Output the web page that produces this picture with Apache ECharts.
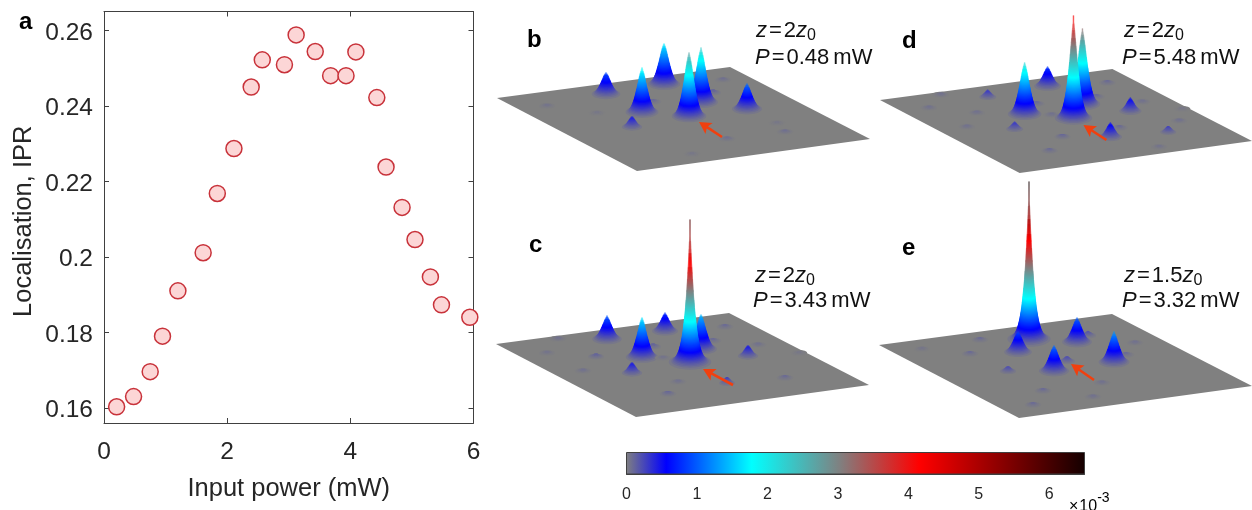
<!DOCTYPE html>
<html><head><meta charset="utf-8">
<style>html,body{margin:0;padding:0;background:#fff}#c{width:1252px;height:510px}</style>
<script src="https://cdn.jsdelivr.net/npm/echarts@6/dist/echarts.min.js"></script>
</head><body><div id="c"></div>
<script>
// Panel a: input power (mW) vs IPR
const inputPower = [0.205,0.48,0.75,0.95,1.2,1.61,1.84,2.11,2.39,2.57,2.93,3.12,3.43,3.68,3.93,4.09,4.43,4.58,4.84,5.05,5.30,5.48,5.94];
const ipr = [0.1603,0.1630,0.1696,0.1790,0.1910,0.2011,0.2168,0.2287,0.2450,0.2522,0.2509,0.2588,0.2544,0.2480,0.2480,0.2543,0.2422,0.2238,0.2131,0.2046,0.1947,0.1873,0.1840];
const xTicks = [0,2,4,6];
const yTicks = [0.16,0.18,0.2,0.22,0.24,0.26];
const barTicks = [0,1,2,3,4,5,6];
// Peaks on the plane: [lateral u, lateral v, height in 1e-3]
const peaksB = [[109,28,0.95],[167,18,1.75],[145,46,1.9],[204,36,2.3],[192,50,2.7],[250,43,1.1],[135,61,0.5],
 [50,39,0.06],[226,13,0.08],[216,26,0.14],[156,35,0.1],[288,65,0.08],[230,72,0.08],[195,87,0.04],[100,46,0.04],[280,56,0.04]];
const peaksC = [[111,27,1.0],[146,45,1.7],[169,19,0.8],[205,37,1.5],[194,50,6.0],[136,61,0.5],[252,44,0.5],[231,71,0.3],
 [62,26,0.07],[51,40,0.06],[100,44,0.14],[87,58,0.07],[157,34,0.14],[229,14,0.1],[217,28,0.1],[262,32,0.07],[303,40,0.04],[289,65,0.1],[182,69,0.07],[172,81,0.12],[167,45,0.06]];
const peaksD = [[108,29,0.35],[168,18,0.85],[145,46,2.2],[203,36,3.2],[194,50,4.3],[135,61,0.35],[231,69,0.65],[251,43,0.6],[289,64,0.3],
 [61,26,0.07],[49,39,0.07],[97,44,0.07],[87,58,0.07],[183,68,0.12],[170,82,0.1],[228,14,0.1],[217,28,0.1],[263,33,0.07],[303,40,0.04],[300,52,0.07],[240,59,0.1],[280,78,0.06],[157,35,0.1],[172,46,0.07]];
const peaksE = [[150,26,6.6],[139,39,0.9],[198,29,1.05],[175,58,1.1],[235,49,1.3],[129,58,0.25],[188,48,0.25],[209,22,0.2],
 [101,26,0.1],[91,40,0.1],[43,35,0.05],[256,29,0.07],[247,41,0.1],[223,69,0.07],[164,77,0.1],[214,83,0.07],[154,91,0.1]];
// Arrows: tail u, tail v, tip u, tip v
const arrowB = [225,70,202,55];
const arrowC = [237,72,207,56];
const arrowD = [227,71,204,56];
const arrowE = [215,66,192,50];
const planeCorners = [[0,31],[233,0],[373,72],[140,104]];
const panelLabels = ['a','b','c','d','e'];
const colorStops = [[0,128,128,128],[0.57,0,0,255],[1.78,0,255,255],[3.03,128,128,128],[4.15,255,0,0],[6.5,20,0,0]];

const DARK='#262626', FONT='"Liberation Sans",Arial,sans-serif';
function cmap(z){
  for(let i=1;i<colorStops.length;i++){
    const a=colorStops[i-1],b=colorStops[i];
    if(z<=b[0]){const t=(z-a[0])/(b[0]-a[0]);
      return `rgb(${Math.round(a[1]+t*(b[1]-a[1]))},${Math.round(a[2]+t*(b[2]-a[2]))},${Math.round(a[3]+t*(b[3]-a[3]))})`;}
  }
  const l=colorStops[colorStops.length-1];return `rgb(${l[1]},${l[2]},${l[3]})`;
}
const Z_UNITS=24, SQUASH=0.36;
function clamp01(t){return Math.max(0,Math.min(1,t));}
function peakItem(params,api){
  const u=api.value(0),v=api.value(1),H=api.value(2);
  const c=api.coord([u,v]);
  const pxPerZ=api.size([0,Z_UNITS])[1];
  const dz=Math.min(1/pxPerZ,H/8);
  const tall=clamp01((H-2.7)/3.3), small=clamp01((1-H)/0.7);
  const power=1.7-0.55*tall;
  const s=(7.5-2.2*tall)-2.2*small;
  const kids=[];
  for(let z=dz;z<H;z+=dz){
    const r=s*Math.pow(Math.log(H/z),1/power);
    kids.push({type:'ellipse',shape:{cx:c[0],cy:c[1]-z*pxPerZ,rx:Math.max(r,0.9),ry:Math.max(r*SQUASH,0.5)},style:{fill:cmap(z)},silent:true});
  }
  return {type:'group',children:kids};
}
function planeItem(params,api){
  const pts=planeCorners.map(p=>api.coord(p));
  return {type:'polygon',shape:{points:pts},style:{fill:'#808080'},silent:true};
}
function arrowItem(params,api){
  const t=api.coord([api.value(0),api.value(1)]),h=api.coord([api.value(2),api.value(3)]);
  const dx=h[0]-t[0],dy=h[1]-t[1],L=Math.hypot(dx,dy),ux=dx/L,uy=dy/L,nx=-uy,ny=ux;
  const len=12,w=6.5,sw=1.3;
  const b=[h[0]-ux*len,h[1]-uy*len];
  return {type:'polygon',shape:{points:[
    h,[b[0]+nx*w,b[1]+ny*w],[b[0]+nx*sw+ux*2,b[1]+ny*sw+uy*2],[t[0]+nx*sw,t[1]+ny*sw],[t[0]-nx*sw,t[1]-ny*sw],[b[0]-nx*sw+ux*2,b[1]-ny*sw+uy*2],[b[0]-nx*w,b[1]-ny*w]
  ]},style:{fill:'#f0400f'},silent:true};
}
const panels=[
 {o:[497,67],peaks:peaksB,arrow:arrowB},
 {o:[496,313],peaks:peaksC,arrow:arrowC},
 {o:[880,69],peaks:peaksD,arrow:arrowD},
 {o:[879,314],peaks:peaksE,arrow:arrowE}
];
const grids=[{left:104,top:11.5,width:369.5,height:411.5}];
const xAxes=[
 {gridIndex:0,type:'value',min:0,max:6,position:'bottom',name:'Input power (mW)',nameLocation:'middle',nameGap:53,
  nameTextStyle:{fontSize:25.5,color:DARK,fontFamily:FONT},
  axisLine:{show:true,lineStyle:{color:'#404040',width:1}},splitLine:{show:false},
  axisTick:{show:true,inside:true,length:5,lineStyle:{color:'#404040'},customValues:xTicks},
  axisLabel:{fontSize:24.5,color:DARK,fontFamily:FONT,margin:17,customValues:xTicks,hideOverlap:false}},
 {gridIndex:0,type:'value',min:0,max:6,position:'top',
  axisLine:{show:true,onZero:false,lineStyle:{color:'#404040',width:1}},splitLine:{show:false},
  axisTick:{show:true,inside:true,length:5,lineStyle:{color:'#404040'},customValues:xTicks},axisLabel:{show:false}}
];
const yAxes=[
 {gridIndex:0,type:'value',min:0.156,max:0.265,position:'left',name:'Localisation, IPR',nameLocation:'middle',nameGap:67,
  nameTextStyle:{fontSize:25.5,color:DARK,fontFamily:FONT,padding:[0,8,0,0]},
  axisLine:{show:true,onZero:false,lineStyle:{color:'#404040',width:1}},splitLine:{show:false},
  axisTick:{show:true,inside:true,length:5,lineStyle:{color:'#404040'},customValues:yTicks},
  axisLabel:{color:DARK,margin:11,customValues:yTicks,formatter:v=>'{l|'+String(+v.toFixed(2))+'}',
    rich:{l:{fontSize:24.5,color:DARK,fontFamily:FONT,padding:[5,0,0,0]}}}},
 {gridIndex:0,type:'value',min:0.156,max:0.265,position:'right',
  axisLine:{show:true,onZero:false,lineStyle:{color:'#404040',width:1}},splitLine:{show:false},
  axisTick:{show:true,inside:true,length:5,lineStyle:{color:'#404040'},customValues:yTicks},axisLabel:{show:false}}
];
const series=[{type:'scatter',xAxisIndex:0,yAxisIndex:0,data:inputPower.map((x,i)=>[x,ipr[i]]),symbolSize:16,clip:false,
  itemStyle:{color:'#fcd6d6',borderColor:'#c8323a',borderWidth:1.5,opacity:1},z:5}];
panels.forEach(p=>{
  const gi=grids.length, ax={gridIndex:gi,type:'value',show:false,splitLine:{show:false}};
  grids.push({left:p.o[0],top:p.o[1],width:373,height:104});
  xAxes.push({...ax,min:0,max:373});
  yAxes.push({...ax,min:0,max:104,inverse:true});
  const xi=xAxes.length-1, yi=yAxes.length-1, common={type:'custom',xAxisIndex:xi,yAxisIndex:yi,silent:true,clip:false,animation:false,progressive:0,encode:{x:0,y:1}};
  series.push({...common,data:[[0,0]],renderItem:planeItem,z:2});
  series.push({...common,data:p.peaks.slice().sort((a,b)=>a[1]-b[1]),renderItem:peakItem,z:3});
  series.push({...common,data:[p.arrow],renderItem:arrowItem,z:4});
});
// colour bar
const barGrid=grids.length;
grids.push({left:626.5,top:452.5,width:458,height:21.5});
xAxes.push({gridIndex:barGrid,type:'value',min:0,max:6.5,position:'bottom',
  axisLine:{show:true,onZero:false,lineStyle:{color:'#404040',width:1}},splitLine:{show:false},
  axisTick:{show:true,inside:true,length:4,lineStyle:{color:'#404040'},customValues:barTicks},
  axisLabel:{fontSize:16,color:DARK,fontFamily:FONT,margin:13,customValues:barTicks}});
yAxes.push({gridIndex:barGrid,type:'value',min:0,max:1,show:false,splitLine:{show:false}});
series.push({type:'custom',xAxisIndex:xAxes.length-1,yAxisIndex:yAxes.length-1,silent:true,clip:false,animation:false,z:2,
  data:[[0,0,6.5,1]],encode:{x:[0,2],y:[1,3]},
  renderItem(params,api){
    const a=api.coord([0,1]),b=api.coord([6.5,0]);
    return {type:'rect',shape:{x:a[0],y:a[1],width:b[0]-a[0],height:b[1]-a[1]},
      style:{fill:new echarts.graphic.LinearGradient(0,0,1,0,colorStops.map(s=>({offset:s[0]/6.5,color:`rgb(${s[1]},${s[2]},${s[3]})`}))),stroke:'#404040',lineWidth:1}};
  }});

const rich={i:{fontStyle:'italic',fontSize:22,fontFamily:FONT,color:'#111'},n:{fontSize:22,fontFamily:FONT,color:'#111'},
  e:{fontSize:22,fontFamily:FONT,color:'#111',padding:[0,2,0,2]},
  m:{fontSize:22,fontFamily:FONT,color:'#111',padding:[0,0,0,4]},
  s:{fontSize:16,fontFamily:FONT,color:'#111',verticalAlign:'bottom',padding:[9,0,0,0]}};
function note(x,y,txt){return {type:'text',left:x,top:y,z:10,style:{text:txt,rich,fontSize:22,fontFamily:FONT,fill:'#111'}};}
function letter(t,x,y){return {type:'text',left:x,top:y,z:10,style:{text:t,fontSize:24,fontWeight:'bold',fontFamily:FONT,fill:'#000'}};}
const graphic=[
 letter(panelLabels[0],19,10),letter(panelLabels[1],527,28),letter(panelLabels[2],529,233),letter(panelLabels[3],902,29),letter(panelLabels[4],902,236),
 note(756,20,'{i|z}{e|=}{n|2}{i|z}{s|0}'),note(755,47,'{i|P}{e|=}{n|0.48}{m|mW}'),
 note(755,265,'{i|z}{e|=}{n|2}{i|z}{s|0}'),note(753,290,'{i|P}{e|=}{n|3.43}{m|mW}'),
 note(1124,20,'{i|z}{e|=}{n|2}{i|z}{s|0}'),note(1122,47,'{i|P}{e|=}{n|5.48}{m|mW}'),
 note(1124,265,'{i|z}{e|=}{n|1.5}{i|z}{s|0}'),note(1122,290,'{i|P}{e|=}{n|3.32}{m|mW}'),
 {type:'text',left:1069,top:491,z:10,style:{text:'{a|×}{b|10}{c|-3}',rich:{a:{fontSize:16,fontFamily:FONT,color:DARK,verticalAlign:'bottom',padding:[8,1,0,0]},b:{fontSize:16,fontFamily:FONT,color:DARK,verticalAlign:'bottom',padding:[8,0,0,0]},c:{fontSize:14,fontFamily:FONT,color:DARK,verticalAlign:'top',padding:[0,0,8,0]}}}}
];
const chart=echarts.init(document.getElementById('c'),null,{renderer:'canvas'});
chart.setOption({animation:false,backgroundColor:'#fff',tooltip:{show:false},grid:grids,xAxis:xAxes,yAxis:yAxes,series,graphic});
</script></body></html>
